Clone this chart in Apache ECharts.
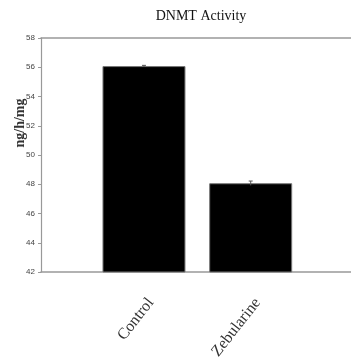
<!DOCTYPE html>
<html><head><meta charset="utf-8">
<script src="https://cdn.jsdelivr.net/npm/echarts@6/dist/echarts.min.js"></script>
<style>html,body{margin:0;padding:0;background:#fff}#c{width:351px;height:362px}</style>
</head><body><div id="c"></div>
<script>
const categories = ['Control', 'Zebularine'];
const positions = [1, 2];
const values = [56.08, 48.07];
const errors = [0.05, 0.15];
const yTicks = [42, 44, 46, 48, 50, 52, 54, 56, 58];

const LABEL_SHIFT = 0.065; // rotated labels sit slightly right of bar centers
const chart = echarts.init(document.getElementById('c'));
const barData = positions.map((p, i) => [p, values[i]]);
const errData = positions.map((p, i) => [p, values[i] - errors[i], values[i] + errors[i]]);
chart.setOption({
  animation: false,
  title: { text: 'DNMT Activity', left: 196, top: 4, textAlign: 'center',
    textStyle: { fontFamily: 'Liberation Serif', fontWeight: 'normal', fontSize: 14, color: '#111' } },
  grid: { left: 41, right: 0, top: 38, bottom: 90, outerBoundsMode: 'none', containLabel: false },
  xAxis: [{
    type: 'value', min: 0.035, max: 2.94,
    axisLine: { show: true, onZero: false, lineStyle: { color: '#999', width: 1.5 } },
    axisTick: { show: false }, splitLine: { show: false },
    axisLabel: { customValues: positions.map(p => p + LABEL_SHIFT), rotate: 52, margin: 28,
      fontFamily: 'Liberation Serif', fontSize: 16, color: '#333',
      formatter: v => { const i = positions.indexOf(Math.round(v)); return i >= 0 ? categories[i] : ''; } }
  }, {
    type: 'value', position: 'top', min: 0.035, max: 2.94,
    axisLine: { show: true, lineStyle: { color: '#999', width: 1.5 } },
    axisTick: { show: false }, axisLabel: { show: false }, splitLine: { show: false }
  }],
  yAxis: {
    type: 'value', min: yTicks[0], max: yTicks[yTicks.length - 1], interval: 2,
    name: 'ng/h/mg', nameLocation: 'middle', nameGap: 14, nameMoveOverlap: false,
    nameTextStyle: { fontFamily: 'Liberation Serif', fontSize: 14, fontWeight: 'bold', color: '#333', padding: [0, 0, 0, 64] },
    axisLine: { show: true, lineStyle: { color: '#999', width: 1.2 } },
    axisTick: { show: true, length: 3, lineStyle: { color: '#999' } },
    splitLine: { show: false },
    axisLabel: { margin: 6, fontFamily: 'Liberation Sans Narrow, Liberation Sans', fontSize: 8, color: '#444' }
  },
  series: [{
    type: 'bar', data: barData, barWidth: 83,
    itemStyle: { color: '#000', borderColor: '#777', borderWidth: 1 }
  }, {
    type: 'custom', data: errData,
    renderItem: (params, api) => {
      const x = api.value(0);
      const lo = api.coord([x, api.value(1)]);
      const hi = api.coord([x, api.value(2)]);
      return { type: 'group', children: [
        { type: 'line', shape: { x1: lo[0], y1: lo[1], x2: hi[0], y2: hi[1] }, style: { stroke: '#555', lineWidth: 1 } },
        { type: 'line', shape: { x1: hi[0] - 2, y1: hi[1], x2: hi[0] + 2, y2: hi[1] }, style: { stroke: '#555', lineWidth: 1 } }
      ] };
    },
    z: 5
  }]
});
</script></body></html>
